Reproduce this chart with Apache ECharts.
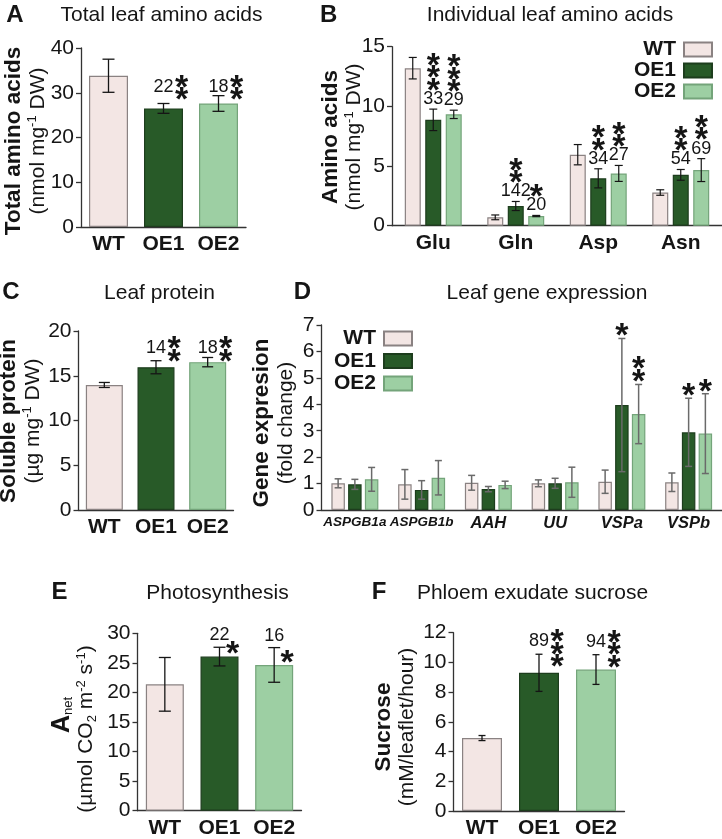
<!DOCTYPE html>
<html><head><meta charset="utf-8">
<script src="https://cdn.jsdelivr.net/npm/echarts@6/dist/echarts.min.js"></script>
<style>html,body{margin:0;padding:0;background:#fff}#c{width:722px;height:839px}</style>
</head><body><div id="c"></div>
<script>
const FONT = '"Liberation Sans", Arial, Helvetica, sans-serif';
const lines = ['WT', 'OE1', 'OE2'];

// Panel A: total leaf amino acids
const aCats = ['WT', 'OE1', 'OE2'];
const aMean = [33.8, 26.5, 27.6];
const aErr = [3.7, 1.1, 1.75];
const aPct = ['', '22', '18'];
const aStars = [0, 2, 2];

// Panel B: individual leaf amino acids
const bCats = ['Glu', 'Gln', 'Asp', 'Asn'];
const bWT = [13.2, 0.70, 5.95, 2.78];
const bWTErr = [0.9, 0.2, 0.85, 0.23];
const bOE1 = [8.87, 1.65, 3.97, 4.26];
const bOE1Err = [0.9, 0.38, 0.8, 0.45];
const bOE2 = [9.33, 0.81, 4.38, 4.66];
const bOE2Err = [0.35, 0.05, 0.67, 0.96];
const bOE1Pct = ['33', '142', '34', '54'];
const bOE2Pct = ['29', '20', '27', '69'];
const bOE1Stars = [3, 2, 2, 2];
const bOE2Stars = [3, 1, 2, 2];

// Panel C: leaf protein
const cCats = ['WT', 'OE1', 'OE2'];
const cMean = [13.97, 15.95, 16.52];
const cErr = [0.28, 0.73, 0.52];
const cPct = ['', '14', '18'];
const cStars = [0, 2, 2];

// Panel D: leaf gene expression
const dCats = ['ASPGB1a', 'ASPGB1b', 'AAH', 'UU', 'VSPa', 'VSPb'];
const dWT = [1.01, 0.97, 1.03, 1.01, 1.07, 1.05];
const dWTErr = [0.17, 0.56, 0.28, 0.13, 0.44, 0.35];
const dOE1 = [0.97, 0.76, 0.79, 1.01, 3.97, 2.94];
const dOE1Err = [0.19, 0.35, 0.10, 0.19, 2.52, 1.29];
const dOE2 = [1.16, 1.22, 0.95, 1.05, 3.63, 2.89];
const dOE2Err = [0.45, 0.65, 0.14, 0.57, 1.12, 1.51];
const dOE1Stars = [0, 0, 0, 0, 1, 1];
const dOE2Stars = [0, 0, 0, 0, 2, 1];

// Panel E: photosynthesis
const eCats = ['WT', 'OE1', 'OE2'];
const eMean = [21.37, 26.06, 24.65];
const eErr = [4.54, 1.58, 2.93];
const ePct = ['', '22', '16'];
const eStars = [0, 1, 1];

// Panel F: phloem exudate sucrose
const fCats = ['WT', 'OE1', 'OE2'];
const fMean = [4.91, 9.30, 9.52];
const fErr = [0.17, 1.25, 1.0];
const fPct = ['', '89', '94'];
const fStars = [0, 3, 3];

// y-axis scales [min, max, interval]
const aScale = [0, 40, 10];
const bScale = [0, 15, 5];
const cScale = [0, 20, 5];
const dScale = [0, 7, 1];
const eScale = [0, 30, 5];
const fScale = [0, 12, 2];

// ---------- styling ----------
const FILL = { WT: '#f3e6e4', OE1: '#285a28', OE2: '#9dcfa3' };
const BORDER = { WT: '#8a8282', OE1: '#1d3d1d', OE2: '#74a47a' };
const INK = '#151515';
const AXC = '#333';

function numEl(x, y, t) {
  return { type: 'text', style: { text: t, x: x, y: y, font: '18px ' + FONT, fill: INK,
    align: 'center', verticalAlign: 'middle', textAlign: 'center', textVerticalAlign: 'middle' } };
}
const SS = 34;
function starEl(x, y) {
  return { type: 'text', style: { text: '*', x: x, y: y + 0.22 * SS, font: 'bold ' + SS + 'px ' + FONT, fill: INK,
    align: 'center', verticalAlign: 'middle', textAlign: 'center', textVerticalAlign: 'middle' } };
}

function errSeries(idx, items, opt) {
  return {
    type: 'custom', xAxisIndex: idx, yAxisIndex: idx, z: 5, silent: true,
    data: items.map(t => [t.cat, t.mean]),
    renderItem: function (params, api) {
      const it = items[params.dataIndex];
      const base = api.coord([it.cat, it.mean]);
      const cx = base[0] + opt.offsets[it.g];
      const yBar = base[1];
      const yTop = api.coord([it.cat, it.mean + it.err])[1];
      const yBot = api.coord([it.cat, it.mean - it.err])[1];
      const ls = { stroke: opt.color, lineWidth: opt.width };
      const h = opt.cap / 2;
      const els = [
        { type: 'line', shape: { x1: cx, y1: yTop, x2: cx, y2: yBot }, style: ls },
        { type: 'line', shape: { x1: cx - h, y1: yTop, x2: cx + h, y2: yTop }, style: ls },
        { type: 'line', shape: { x1: cx - h, y1: yBot, x2: cx + h, y2: yBot }, style: ls }
      ];
      const step = 12.5;
      if (opt.mode === 'side' && it.pct) {
        let yN = yTop - 13;
        if (opt.shared) {
          yN = Math.min.apply(null, items.filter(t => t.pct).map(t => api.coord([t.cat, t.mean + t.err])[1])) - 9;
        }
        els.push(numEl(cx, yN, it.pct));
        for (let k = 0; k < it.stars; k++) els.push(starEl(cx + 18, yN - 6 + k * step));
      } else if (opt.mode === 'top' && it.pct) {
        const yN = yTop - 10;
        els.push(numEl(cx, yN, it.pct));
        for (let k = 0; k < it.stars; k++) els.push(starEl(cx, yN - 15 - k * step));
      } else if (opt.mode === 'stars') {
        for (let k = 0; k < it.stars; k++) els.push(starEl(cx, yTop - 9 - k * 13));
      } else if (opt.mode === 'corner' && it.pct) {
        els.push(numEl(cx, yTop - 12, it.pct));
        for (let k = 0; k < it.stars; k++) els.push(starEl(cx + 13, yBar - 9 - k * step));
      }
      return { type: 'group', children: els };
    }
  };
}

function singleItems(cats, mean, err, pct, stars) {
  return cats.map((c, i) => ({ cat: i, mean: mean[i], err: err[i], g: 0, pct: pct[i], stars: stars[i] }));
}
function groupItems(means, errs, pcts, stars) {
  const out = [];
  means.forEach((m, g) => m.forEach((v, i) => out.push({ cat: i, mean: v, err: errs[g][i], g: g,
    pct: pcts[g] ? pcts[g][i] : '', stars: stars[g] ? stars[g][i] : 0 })));
  return out;
}

function singleBar(idx, cats, mean, bw) {
  return { type: 'bar', xAxisIndex: idx, yAxisIndex: idx, barWidth: bw, silent: true,
    data: mean.map((v, i) => ({ value: v, itemStyle: { color: FILL[cats[i]], borderColor: BORDER[cats[i]], borderWidth: 1.2 } })) };
}
function groupBar(idx, name, vals, bw, gap) {
  return { type: 'bar', name: name, xAxisIndex: idx, yAxisIndex: idx, barWidth: bw, barGap: gap, silent: true,
    data: vals, itemStyle: { color: FILL[name], borderColor: BORDER[name], borderWidth: 1.2 } };
}

function xAx(idx, cats, extra) {
  return Object.assign({
    type: 'category', gridIndex: idx, data: cats,
    axisLine: { lineStyle: { color: AXC, width: 1.3 } },
    axisTick: { alignWithLabel: true, length: 5, lineStyle: { color: AXC, width: 1.3 } },
    axisLabel: { interval: 0, fontFamily: FONT, fontWeight: 'bold', fontSize: 21, color: INK, margin: 7 }
  }, extra || {});
}
function yAx(idx, sc) {
  return {
    type: 'value', gridIndex: idx, min: sc[0], max: sc[1], interval: sc[2],
    axisLine: { show: true, lineStyle: { color: AXC, width: 1.3 } },
    axisTick: { show: true, length: 5, lineStyle: { color: AXC, width: 1.3 } },
    splitLine: { show: false },
    axisLabel: { fontFamily: FONT, fontSize: 21, color: INK, margin: 7 }
  };
}

// ---------- texts ----------
function richY(extra) {
  return Object.assign({
    b: { fontFamily: FONT, fontWeight: 'bold', fontSize: 22.5, lineHeight: 24, fill: INK },
    n: { fontFamily: FONT, fontSize: 21, lineHeight: 24, fill: INK },
    sup: { fontFamily: FONT, fontSize: 13, verticalAlign: 'top', fill: INK },
    sub: { fontFamily: FONT, fontSize: 13, verticalAlign: 'bottom', fill: INK }
  }, extra || {});
}
function yLabel(x, y, text, rich) {
  return { type: 'text', x: x, y: y, rotation: Math.PI / 2, silent: true,
    style: { text: text, rich: rich || richY(), align: 'center', verticalAlign: 'middle',
      textAlign: 'center', textVerticalAlign: 'middle' } };
}
function plain(x, y, text, font) {
  return { type: 'text', x: x, y: y, silent: true,
    style: { text: text, font: font, fill: INK, align: 'center', verticalAlign: 'middle',
      textAlign: 'center', textVerticalAlign: 'middle' } };
}
const LETTER = 'bold 24px ' + FONT;
const TITLE = '21px ' + FONT;

const graphics = [
  plain(15, 15, 'A', LETTER), plain(161.5, 15, 'Total leaf amino acids', TITLE),
  plain(328.7, 15, 'B', LETTER), plain(550, 15, 'Individual leaf amino acids', TITLE),
  plain(11, 292, 'C', LETTER), plain(159.5, 293, 'Leaf protein', TITLE),
  plain(302.5, 292, 'D', LETTER), plain(547, 293, 'Leaf gene expression', TITLE),
  plain(59.5, 592, 'E', LETTER), plain(217.5, 593, 'Photosynthesis', TITLE),
  plain(379, 592, 'F', LETTER), plain(532.5, 593, 'Phloem exudate sucrose', TITLE),
  yLabel(26, 141, '{b|Total amino acids}\n{n|(nmol mg}{sup|-1}{n| DW)}'),
  yLabel(342.5, 137, '{b|Amino acids}\n{n|(nmol mg}{sup|-1}{n| DW)}'),
  yLabel(21, 421, '{b|Soluble protein}\n{n|(\u00b5g mg}{sup|-1}{n| DW)}'),
  yLabel(274, 423, '{b|Gene expresion}\n{n|(fold change)}'),
  yLabel(62, 715, '{A|A}{sub|net}',
    richY({ A: { fontFamily: FONT, fontWeight: 'bold', fontSize: 25, lineHeight: 26, fill: INK } })),
  yLabel(86.5, 729, '{n|(\u00b5mol CO}{sub|2}{n| m}{sup|-2}{n| s}{sup|-1}{n|)}'),
  yLabel(395.5, 727, '{b|Sucrose}\n{n|(mM/leaflet/hour)}')
];

function legend(right, top, gap) {
  return { data: lines, orient: 'vertical', right: right, top: top, align: 'right', icon: 'rect',
    itemWidth: 28, itemHeight: 14, itemGap: gap, padding: 0, selectedMode: false,
    textStyle: { fontFamily: FONT, fontWeight: 'bold', fontSize: 21, lineHeight: 20, color: INK, padding: [0, 3, 0, 0] } };
}

const dCatData = dCats.map(c => ({ value: c, textStyle: { fontSize: c.length > 4 ? 13.5 : 16.5 } }));

const option = {
  animation: false,
  backgroundColor: '#fff',
  grid: [
    { left: 81, top: 48, width: 165, height: 179 },
    { left: 392, top: 46.7, width: 332, height: 179 },
    { left: 78.5, top: 331, width: 155, height: 179 },
    { left: 321.5, top: 325, width: 402, height: 185 },
    { left: 137.5, top: 633.3, width: 164, height: 177.4 },
    { left: 453.5, top: 632.7, width: 171, height: 180.6 }
  ],
  legend: [legend(9, 39, 0), legend(309, 328, 1.5)],
  xAxis: [
    xAx(0, aCats), xAx(1, bCats), xAx(2, cCats),
    xAx(3, dCatData, { axisLabel: { interval: 0, fontFamily: FONT, fontWeight: 'bold', fontStyle: 'italic', fontSize: 15, color: INK, margin: 5 } }),
    xAx(4, eCats), xAx(5, fCats)
  ],
  yAxis: [yAx(0, aScale), yAx(1, bScale), yAx(2, cScale), yAx(3, dScale), yAx(4, eScale), yAx(5, fScale)],
  graphic: graphics,
  series: [
    singleBar(0, aCats, aMean, 39),
    errSeries(0, singleItems(aCats, aMean, aErr, aPct, aStars), { offsets: [0], cap: 12, color: INK, width: 1.3, mode: 'side', shared: true }),

    groupBar(1, 'WT', bWT, 16, '28%'), groupBar(1, 'OE1', bOE1, 16, '28%'), groupBar(1, 'OE2', bOE2, 16, '28%'),
    errSeries(1, groupItems([bWT, bOE1, bOE2], [bWTErr, bOE1Err, bOE2Err], [null, bOE1Pct, bOE2Pct], [null, bOE1Stars, bOE2Stars]),
      { offsets: [-20.5, 0, 20.5], cap: 8, color: INK, width: 1.2, mode: 'top' }),

    singleBar(2, cCats, cMean, 37),
    errSeries(2, singleItems(cCats, cMean, cErr, cPct, cStars), { offsets: [0], cap: 11, color: INK, width: 1.3, mode: 'side', shared: true }),

    groupBar(3, 'WT', dWT, 13.5, '24%'), groupBar(3, 'OE1', dOE1, 13.5, '24%'), groupBar(3, 'OE2', dOE2, 13.5, '24%'),
    errSeries(3, groupItems([dWT, dOE1, dOE2], [dWTErr, dOE1Err, dOE2Err], [null, null, null], [null, dOE1Stars, dOE2Stars]),
      { offsets: [-16.75, 0, 16.75], cap: 7, color: '#6a6a6a', width: 1.5, mode: 'stars' }),

    singleBar(4, eCats, eMean, 38),
    errSeries(4, singleItems(eCats, eMean, eErr, ePct, eStars), { offsets: [0], cap: 12, color: INK, width: 1.3, mode: 'corner' }),

    singleBar(5, fCats, fMean, 40),
    errSeries(5, singleItems(fCats, fMean, fErr, fPct, fStars), { offsets: [0], cap: 7, color: INK, width: 1.3, mode: 'side' })
  ]
};

const chart = echarts.init(document.getElementById('c'), null, { renderer: 'canvas', width: 722, height: 839 });
chart.setOption(option);
</script>
</body></html>
